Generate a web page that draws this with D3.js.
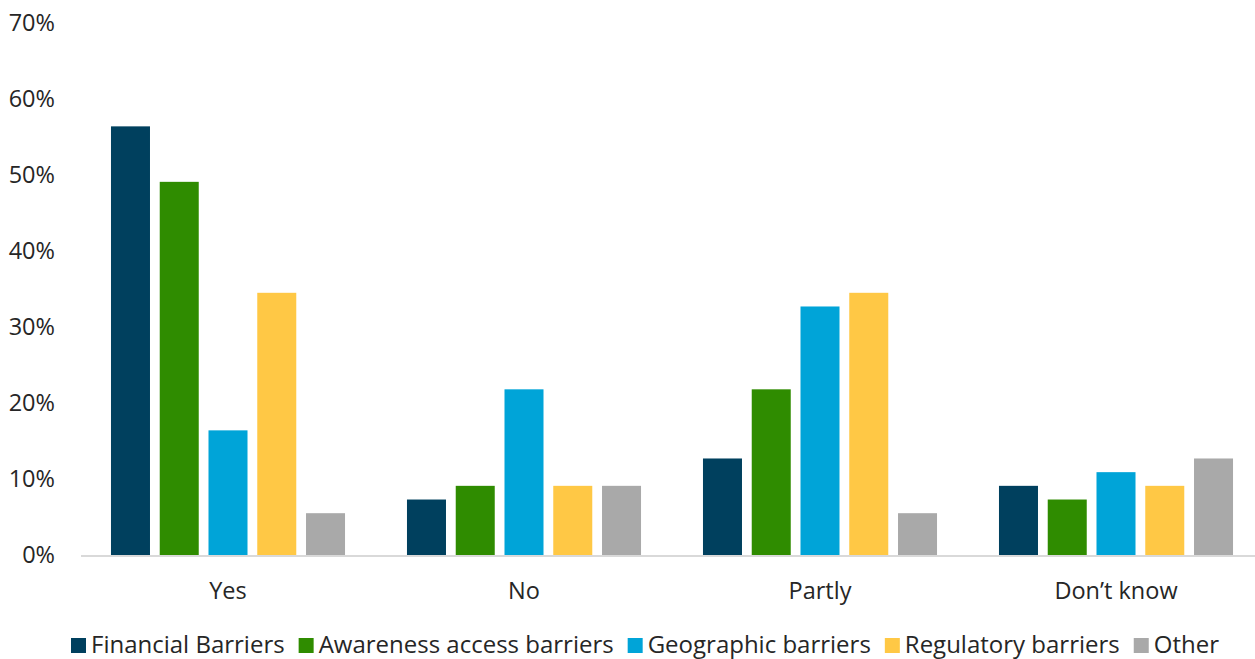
<!DOCTYPE html>
<html>
<head>
<meta charset="utf-8">
<script src="https://cdn.jsdelivr.net/npm/d3@7"></script>
<style>
  html, body { margin: 0; padding: 0; background: #fff; }
  svg { display: block; font-family: "Open Sans", "Noto Sans", sans-serif; }
</style>
</head>
<body>
<svg id="chart" width="1255" height="659"></svg>
<script>
// Answer categories along the x axis
const categories = ["Yes", "No", "Partly", "Don\u2019t know"];

// Barrier types (one bar per category each)
const seriesNames = ["Financial Barriers", "Awareness access barriers", "Geographic barriers", "Regulatory barriers", "Other"];
const seriesColors = ["#00405E", "#2F8C00", "#00A4D8", "#FFC845", "#A9A9A9"];

// Share of respondents, in percent, per category
const financialBarriers = [56.4, 7.3, 12.7, 9.1];
const awarenessBarriers = [49.1, 9.1, 21.8, 7.3];
const geographicBarriers = [16.4, 21.8, 32.7, 10.9];
const regulatoryBarriers = [34.5, 9.1, 34.5, 9.1];
const otherBarriers = [5.5, 9.1, 5.5, 12.7];

const yTicks = [0, 10, 20, 30, 40, 50, 60, 70];

const seriesValues = [financialBarriers, awarenessBarriers, geographicBarriers, regulatoryBarriers, otherBarriers];

const svg = d3.select("#chart");
const W = 1255;
const FONT = 23.5;
const LEGEND_FONT = 24;

const x0 = d3.scaleBand().domain(categories).range([80, 1264]).paddingInner(0).paddingOuter(0);
const x1 = d3.scaleBand().domain(seriesNames).range([30, x0.bandwidth() - 30]).paddingInner(0.2).paddingOuter(0.02);
const y = d3.scaleLinear().domain([0, 70]).range([555, 23]);

// y tick labels
const yAxis = svg.append("g").attr("transform", "translate(55,0)")
  .call(d3.axisLeft(y).tickValues(yTicks).tickFormat(d => d + "%").tickSize(0).tickPadding(0));
yAxis.select(".domain").remove();
yAxis.selectAll("text").attr("font-size", FONT).attr("fill", "#262626")
  .attr("font-family", "'Open Sans', sans-serif");

// bars
const groups = svg.append("g").selectAll("g")
  .data(categories)
  .join("g")
  .attr("transform", d => `translate(${x0(d)},0)`);

groups.selectAll("rect")
  .data((c, ci) => seriesNames.map((s, si) => ({ s, si, v: seriesValues[si][ci] })))
  .join("rect")
  .attr("x", d => x1(d.s))
  .attr("width", x1.bandwidth())
  .attr("y", d => y(d.v))
  .attr("height", d => y(0) - y(d.v))
  .attr("fill", d => seriesColors[d.si]);

// baseline
svg.append("line")
  .attr("x1", 81).attr("x2", W)
  .attr("y1", y(0) + 1).attr("y2", y(0) + 1)
  .attr("stroke", "#D9D9D9").attr("stroke-width", 2);

// category labels
const xAxis = svg.append("g").attr("transform", `translate(0,${y(0)})`)
  .call(d3.axisBottom(x0).tickSize(0).tickPadding(27));
xAxis.select(".domain").remove();
xAxis.selectAll("text").attr("font-size", FONT).attr("fill", "#262626")
  .attr("font-family", "'Open Sans', sans-serif");

// legend
const legend = svg.append("g").attr("transform", "translate(0,653)");
let lx = 71;
seriesNames.forEach((name, i) => {
  const g = legend.append("g").attr("transform", `translate(${lx},0)`);
  g.append("rect").attr("x", 0).attr("y", -15).attr("width", 15).attr("height", 15).attr("fill", seriesColors[i]);
  const t = g.append("text").attr("x", 20).attr("y", 0)
    .attr("font-size", LEGEND_FONT).attr("fill", "#262626").text(name);
  const w = t.node().getComputedTextLength();
  lx += 20 + w + 14;
});
</script>
</body>
</html>
